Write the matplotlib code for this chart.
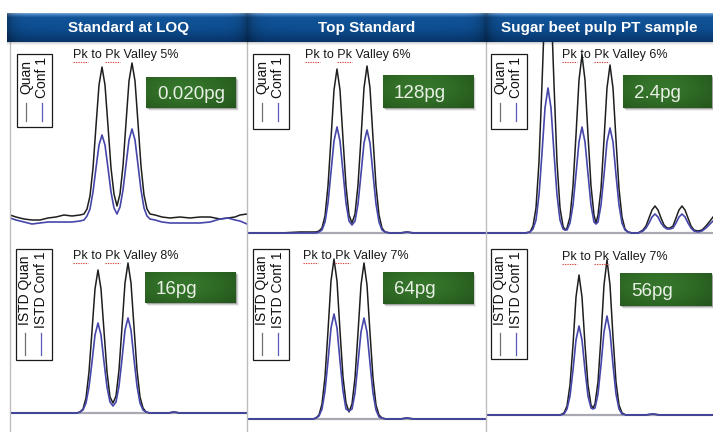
import numpy as np
import matplotlib
matplotlib.use("Agg")
import matplotlib.pyplot as plt
from matplotlib.patches import Rectangle
from matplotlib.lines import Line2D

plt.rcParams['font.family'] = ['Liberation Sans', 'DejaVu Sans']

# ------------------------------------------------------------------ data
column_titles = ["Standard at LOQ", "Top Standard", "Sugar beet pulp PT sample"]
valley_top = ["Pk to Pk Valley 5%", "Pk to Pk Valley 6%", "Pk to Pk Valley 6%"]
valley_bottom = ["Pk to Pk Valley 8%", "Pk to Pk Valley 7%", "Pk to Pk Valley 7%"]
amounts_top = ["0.020pg", "128pg", "2.4pg"]
amounts_bottom = ["16pg", "64pg", "56pg"]
legend_top = ["Quan", "Conf 1"]
legend_bottom = ["ISTD Quan", "ISTD Conf 1"]

# Standard at LOQ - analyte
tl_scan = [10, 16, 24, 32, 40, 48, 56, 64, 72, 80, 84, 87, 90, 93, 96, 99, 102, 105, 108, 111,
           114, 117, 120, 123, 126, 129, 132, 135, 138, 141, 144, 147, 150, 155, 162, 170, 180, 190,
           200, 210, 220, 228, 235, 240, 247]
tl_quan = [7, 5, 3, 2, 2, 4, 5, 7, 6, 7, 8, 13, 26, 54, 96, 137, 155, 137, 96, 54,
           28, 16, 28, 56, 99, 141, 159, 141, 99, 56, 27, 13, 8, 7, 5, 4, 5, 4,
           5, 5, 3, 4, 5, 7, 8]
tl_conf = [4, 2, 0, -2, -1, 0, 0, 0, 0, 1, 2, 6, 13, 30, 54, 77, 87, 77, 54, 30,
           14, 8, 15, 32, 57, 82, 93, 82, 57, 32, 14, 6, 3, 2, 0, -1, -1, -1,
           -1, 0, 3, 4, 2, 1, -2]

# Top Standard - analyte
tm_scan = [248, 280, 300, 310, 316, 319, 322, 325, 328, 331, 334, 337, 340, 343, 346, 349, 352,
           355, 358, 361, 364, 367, 370, 373, 376, 379, 382, 385, 390, 400, 407, 414, 440, 486]
tm_quan = [0, 0, 1, 1, 1, 2, 5, 17, 47, 94, 143, 164, 143, 94, 47, 18, 10,
           19, 48, 95, 145, 167, 145, 95, 47, 18, 5, 1, 0, 0, 1, 0, 0, 0]
tm_conf = [0, 0, 0, 0, 0, 1, 3, 11, 30, 61, 92, 106, 92, 61, 30, 12, 8,
           12, 29, 59, 90, 103, 90, 59, 29, 11, 3, 1, 0, 0, 1, 0, 0, 0]

# Sugar beet pulp sample - analyte
tr_scan = [486, 500, 515, 525, 530, 533, 536, 539, 542, 545, 548, 551, 554, 557, 560, 563, 565,
           567, 570, 573, 576, 579, 582, 585, 588, 591, 594, 596, 598, 601, 604, 607, 610, 613,
           616, 619, 622, 625, 628, 632, 638, 643, 646, 649, 652, 655, 658, 661, 664, 667, 670,
           673, 676, 679, 682, 685, 688, 691, 694, 698, 702, 706, 710, 713]
tr_quan = [0, 0, 0, 0, 1, 7, 25, 71, 149, 233, 270, 233, 149, 71, 25, 7, 3,
           5, 16, 47, 98, 153, 178, 153, 98, 47, 18, 10, 18, 44, 93, 145, 168, 145,
           93, 44, 16, 4, 1, 0, 0, 3, 7, 15, 23, 27, 23, 15, 8, 5, 5,
           7, 15, 23, 27, 23, 15, 7, 3, 2, 3, 7, 12, 16]
tr_conf = [0, 0, 0, 0, 1, 4, 13, 38, 80, 125, 145, 125, 80, 38, 13, 4, 3,
           3, 10, 28, 59, 91, 106, 91, 59, 28, 11, 9, 11, 28, 58, 91, 105, 91,
           58, 28, 10, 3, 1, 0, 0, 2, 5, 10, 16, 19, 16, 10, 6, 4, 4,
           5, 10, 16, 19, 16, 10, 5, 2, 1, 2, 5, 9, 12]

# Standard at LOQ - internal standard
bl_scan = [10, 40, 70, 77, 80, 83, 86, 89, 92, 95, 98, 101, 104, 107, 110, 113, 116, 119, 122,
           125, 128, 131, 134, 137, 140, 143, 146, 150, 168, 174, 180, 247]
bl_quan = [0, 0, 0, 0, 1, 4, 15, 41, 82, 124, 143, 124, 82, 41, 16, 10, 17, 43, 86,
           130, 150, 130, 86, 43, 16, 5, 1, 0, 0, 1, 0, 0]
bl_conf = [0, 0, 0, 0, 1, 3, 10, 26, 51, 78, 90, 78, 51, 26, 11, 7, 11, 27, 54,
           83, 95, 83, 54, 27, 10, 3, 1, 0, 0, 1, 0, 0]

# Top Standard - internal standard
bm_scan = [248, 300, 313, 316, 319, 322, 325, 328, 331, 334, 337, 340, 343, 346, 349, 352, 355,
           358, 361, 364, 367, 370, 373, 376, 379, 382, 386, 400, 407, 414, 486]
bm_quan = [0, 0, 0, 1, 4, 15, 42, 88, 138, 160, 138, 88, 42, 16, 7, 15, 41,
           86, 134, 156, 134, 86, 41, 14, 4, 1, 0, 0, 1, 0, 0]
bm_conf = [0, 0, 0, 1, 3, 10, 28, 58, 91, 105, 91, 58, 28, 10, 8, 10, 26,
           56, 87, 101, 87, 56, 26, 9, 2, 1, 0, 0, 1, 0, 0]

# Sugar beet pulp sample - internal standard
br_scan = [486, 530, 560, 564, 567, 570, 573, 576, 579, 582, 585, 588, 591, 593, 595, 598, 601,
           604, 607, 610, 613, 616, 619, 622, 626, 645, 653, 660, 713]
br_quan = [0, 0, 0, 2, 9, 30, 70, 118, 140, 118, 70, 30, 10, 7, 11, 33, 78,
           130, 155, 130, 78, 33, 10, 2, 0, 0, 1, 0, 0]
br_conf = [0, 0, 0, 1, 6, 19, 45, 75, 89, 75, 45, 19, 7, 6, 7, 21, 50,
           83, 99, 83, 50, 21, 6, 1, 0, 0, 1, 0, 0]

# ------------------------------------------------------------------ layout
W, H = 713, 432
fig = plt.figure(figsize=(W / 100, H / 100), dpi=100)
fig.patch.set_facecolor('white')


def frect(x0, y0, x1, y1):
    return [x0 / W, 1 - y1 / H, (x1 - x0) / W, (y1 - y0) / H]


def fx(x):
    return x / W


def fy(y):
    return 1 - y / H


col_x = [(10, 247.5), (247.5, 486), (486, 713)]
row_y = [(42, 237), (237, 432)]
baseline_px = [[222, 233, 233], [413, 419, 415]]

panels = [[(tl_scan, tl_quan, tl_conf), (tm_scan, tm_quan, tm_conf), (tr_scan, tr_quan, tr_conf)],
          [(bl_scan, bl_quan, bl_conf), (bm_scan, bm_quan, bm_conf), (br_scan, br_quan, br_conf)]]

QUAN_COLOR = '#1e1e1e'
CONF_COLOR = '#4646aa'

for r in range(2):
    for c in range(3):
        x0, x1 = col_x[c]
        y0, y1 = row_y[r]
        b = baseline_px[r][c]
        ax = fig.add_axes(frect(x0, y0, x1, y1), zorder=0)
        ax.set_axis_off()
        ax.set_xlim(x0, x1)
        ax.set_ylim(b - y1, b - y0)
        scan, quan, conf = panels[r][c]
        if not (r == 0 and c == 0):
            ax.axhline(0, color='#a9a9b3', lw=1.6, zorder=1)
        ax.plot(scan, quan, color=QUAN_COLOR, lw=1.1, zorder=2)
        ax.plot(scan, conf, color=CONF_COLOR, lw=1.2, zorder=3)

# column frame lines
for xv in (10, 247.5, 486):
    fig.add_artist(Line2D([fx(xv), fx(xv)], [fy(42), fy(432)], transform=fig.transFigure,
                          color='#bdbdbd', lw=1.0, zorder=1))

# ------------------------------------------------------------------ header bar
hx0, hx1, hy0, hy1 = 7, 713, 13, 42
for k, a in enumerate([0.18, 0.10, 0.05]):
    fig.add_artist(Rectangle((fx(hx0), fy(hy1 + 1 + k)), (hx1 - hx0) / W, 1 / H,
                             transform=fig.transFigure, color='black', alpha=a, lw=0, zorder=1))
hax = fig.add_axes(frect(hx0, hy0, hx1, hy1), zorder=4)
hax.set_axis_off()
ny, nx = hy1 - hy0, hx1 - hx0
tv = np.linspace(0, 1, ny)
stops_t = [0.0, 0.07, 0.14, 0.55, 1.0]
stops_c = np.array([[0.42, 0.62, 0.82], [0.20, 0.45, 0.72], [0.07, 0.33, 0.60],
                    [0.05, 0.30, 0.56], [0.03, 0.21, 0.42]])
vcol = np.stack([np.interp(tv, stops_t, stops_c[:, k]) for k in range(3)], axis=1)
xs = np.arange(hx0, hx1) + 0.5
dist = np.min(np.abs(xs[:, None] - np.array([hx0, 247.5, 486])[None, :]), axis=1)
hfac = 1 - 0.35 * np.exp(-dist / 7.0)
img = vcol[:, None, :] * hfac[None, :, None]
hax.imshow(img, extent=(hx0, hx1, hy1, hy0), aspect='auto', interpolation='bilinear')
hax.set_xlim(hx0, hx1)
hax.set_ylim(hy1, hy0)
for c, title in enumerate(column_titles):
    cx = (max(col_x[c][0], hx0) + col_x[c][1]) / 2
    hax.text(cx, (hy0 + hy1) / 2 + 0.5, title, color='white', fontsize=11, fontweight='bold',
             ha='center', va='center')

# ------------------------------------------------------------------ legend boxes
legend_boxes = [[(17, 54, 52, 127), (253, 54, 289, 129), (491, 54, 527, 129)],
                [(16, 249, 52, 360), (253, 249, 289, 360), (491, 249, 527, 359)]]
legend_text_y = [77, 290]
legend_line_y = [(103, 121), (333, 355)]
legend_labels = [legend_top, legend_bottom]
for r in range(2):
    for c in range(3):
        x0, y0, x1, y1 = legend_boxes[r][c]
        fig.add_artist(Rectangle((fx(x0), fy(y1)), (x1 - x0) / W, (y1 - y0) / H,
                                 transform=fig.transFigure, facecolor='white',
                                 edgecolor='#1a1a1a', lw=0.9, zorder=4))
        for k, (lab, col) in enumerate(zip(legend_labels[r], [QUAN_COLOR, CONF_COLOR])):
            tx = x0 + 9 + 16 * k
            fig.text(fx(tx), fy(legend_text_y[r]), lab, rotation=90, fontsize=10,
                     color='#111111', ha='center', va='center', zorder=5)
            la, lb = legend_line_y[r]
            fig.add_artist(Line2D([fx(tx), fx(tx)], [fy(la), fy(lb)], transform=fig.transFigure,
                                  color='#707070' if k == 0 else '#5a5ab8', lw=0.9, zorder=5))

# ------------------------------------------------------------------ valley labels
renderer = fig.canvas.get_renderer()
valley_pos = [[(73, 55), (305, 55), (562, 55)], [(73, 256), (303, 256), (562, 257)]]
valley_labels = [valley_top, valley_bottom]
for r in range(2):
    for c in range(3):
        x, y = valley_pos[r][c]
        s = valley_labels[r][c]
        t = fig.text(fx(x), fy(y), s, fontsize=9, color='#1a1a1a', ha='left', va='center',
                     zorder=6)
        prop = t.get_fontproperties()
        w_pk = renderer.get_text_width_height_descent('Pk', prop, ismath=False)[0]
        w_pre = renderer.get_text_width_height_descent('Pk to ', prop, ismath=False)[0]
        for start in (0, w_pre):
            fig.add_artist(Line2D([fx(x + start), fx(x + start + w_pk)], [fy(y + 6.5)] * 2,
                                  transform=fig.transFigure, color='#d9463e', lw=0.8,
                                  ls=(0, (1.2, 1.0)), zorder=6))

# ------------------------------------------------------------------ amount boxes
green_boxes = [[(146, 77, 236, 108), (383, 75, 473, 108), (623, 75, 712, 108)],
               [(145, 272, 236, 303), (383, 272, 473, 304), (620, 273, 712, 306)]]
amount_labels = [amounts_top, amounts_bottom]
gy, gx = np.mgrid[0:1:40j, 0:1:100j]
gval = np.exp(-(((gx - 0.42) / 0.75) ** 2 + ((gy - 0.40) / 0.9) ** 2))
dark = np.array([0.10, 0.27, 0.07])
light = np.array([0.21, 0.46, 0.17])
gimg = dark[None, None, :] + (light - dark)[None, None, :] * gval[:, :, None]
for r in range(2):
    for c in range(3):
        x0, y0, x1, y1 = green_boxes[r][c]
        for k, a in enumerate([0.22, 0.12, 0.06]):
            fig.add_artist(Rectangle((fx(x0 + 1 + k), fy(y1 + 1 + k)), (x1 - x0) / W,
                                     (y1 - y0) / H, transform=fig.transFigure,
                                     color='black', alpha=a, lw=0, zorder=4))
        gax = fig.add_axes(frect(x0, y0, x1, y1), zorder=5)
        gax.set_axis_off()
        gax.imshow(gimg, extent=(0, 1, 0, 1), aspect='auto', interpolation='bilinear')
        gax.set_xlim(0, 1)
        gax.set_ylim(0, 1)
        gax.text(11 / (x1 - x0), 0.5 - 6.5 / (y1 - y0), amount_labels[r][c], fontsize=13.5,
                 color='#e9f0e6', ha='left', va='baseline')

fig.savefig('out.png', dpi=100, facecolor='white')
